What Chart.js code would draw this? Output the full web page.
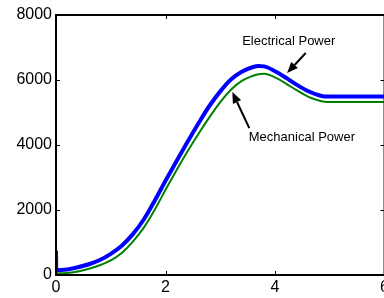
<!DOCTYPE html>
<html>
<head>
<meta charset="utf-8">
<script src="https://cdn.jsdelivr.net/npm/chart.js@4"></script>
<style>
  html, body { margin: 0; padding: 0; background: #fff; }
  #wrap { width: 384px; height: 298px; overflow: hidden; }
</style>
</head>
<body>
<div id="wrap"><canvas id="powerChart" width="392" height="298"></canvas></div>
<script>
// electrical power (blue)
const tElec = [0, 0.005, 0.2, 0.4, 0.6, 0.8, 1.0, 1.2, 1.4, 1.6, 1.8, 2.0, 2.2, 2.4, 2.6, 2.8, 3.0, 3.2, 3.4, 3.6, 3.7, 3.8, 4.0, 4.2, 4.4, 4.6, 4.8, 4.9, 5.0, 5.5, 6.0];
const pElec = [750, 150, 170, 240, 330, 460, 650, 900, 1250, 1700, 2280, 2900, 3500, 4090, 4660, 5200, 5650, 6020, 6260, 6400, 6430, 6420, 6270, 6070, 5850, 5660, 5530, 5495, 5490, 5490, 5490];

// mechanical power (green)
const tMech = [0, 0.2, 0.4, 0.6, 0.8, 1.0, 1.2, 1.4, 1.6, 1.8, 2.0, 2.2, 2.4, 2.6, 2.8, 3.0, 3.2, 3.4, 3.6, 3.7, 3.8, 4.0, 4.2, 4.4, 4.6, 4.8, 4.9, 5.0, 5.5, 6.0];
const pMech = [50, 60, 110, 190, 300, 450, 680, 1020, 1450, 2000, 2620, 3220, 3800, 4340, 4850, 5320, 5710, 5980, 6130, 6180, 6190, 6080, 5890, 5680, 5490, 5370, 5330, 5320, 5320, 5320];

const xTicks = [0, 2, 4, 6];
const yTicks = [0, 2000, 4000, 6000, 8000];

// labels with arrows, in data units
const notes = [
    { text: 'Electrical Power', at: [4.25, 7200], from: [4.56, 6830], to: [4.22, 6215] },
    { text: 'Mechanical Power', at: [4.49, 4246], from: [3.53, 4520], to: [3.22, 5630] }
];

function toPoints(xs, ys) {
    return xs.map((x, i) => ({ x: x, y: ys[i] }));
}

// box round the plot with inward ticks on all four sides
const framePlugin = {
    id: 'frame',
    afterDatasetsDraw(chart) {
        const ctx = chart.ctx;
        const a = chart.chartArea;
        const xs = chart.scales.x, ys = chart.scales.y;
        ctx.save();
        ctx.strokeStyle = '#000';
        ctx.lineWidth = 2;
        ctx.strokeRect(a.left, a.top, a.right - a.left, a.bottom - a.top);
        ctx.lineWidth = 1;
        ctx.beginPath();
        xTicks.forEach(v => {
            const px = Math.round(xs.getPixelForValue(v)) + 0.5;
            ctx.moveTo(px, a.bottom); ctx.lineTo(px, a.bottom - 4);
            ctx.moveTo(px, a.top); ctx.lineTo(px, a.top + 4);
        });
        yTicks.forEach(v => {
            const py = Math.round(ys.getPixelForValue(v)) + 0.5;
            ctx.moveTo(a.left, py); ctx.lineTo(a.left + 4, py);
            ctx.moveTo(a.right, py); ctx.lineTo(a.right - 4, py);
        });
        ctx.stroke();

        // annotations
        ctx.font = '13px "Liberation Sans", Arial, sans-serif';
        ctx.fillStyle = '#000';
        ctx.textAlign = 'center';
        ctx.textBaseline = 'middle';
        notes.forEach(n => {
            ctx.fillText(n.text, xs.getPixelForValue(n.at[0]), ys.getPixelForValue(n.at[1]));
            const x0 = xs.getPixelForValue(n.from[0]), y0 = ys.getPixelForValue(n.from[1]);
            const x1 = xs.getPixelForValue(n.to[0]), y1 = ys.getPixelForValue(n.to[1]);
            const ang = Math.atan2(y1 - y0, x1 - x0);
            const hl = 11, hw = 4.5;
            const bx = x1 - hl * Math.cos(ang), by = y1 - hl * Math.sin(ang);
            ctx.lineWidth = 2;
            ctx.beginPath();
            ctx.moveTo(x0, y0); ctx.lineTo(bx, by);
            ctx.stroke();
            ctx.beginPath();
            ctx.moveTo(x1, y1);
            ctx.lineTo(bx + hw * Math.sin(ang), by - hw * Math.cos(ang));
            ctx.lineTo(bx - hw * Math.sin(ang), by + hw * Math.cos(ang));
            ctx.closePath();
            ctx.fill();
        });
        ctx.restore();
    }
};

new Chart(document.getElementById('powerChart').getContext('2d'), {
    type: 'line',
    data: {
        datasets: [{
            label: 'Mechanical Power',
            data: toPoints(tMech, pMech),
            borderColor: '#008000',
            borderWidth: 2,
            pointRadius: 0,
            cubicInterpolationMode: 'monotone'
        }, {
            label: 'Electrical Power',
            data: toPoints(tElec, pElec),
            borderColor: '#0000ff',
            borderWidth: 4,
            pointRadius: 0,
            cubicInterpolationMode: 'monotone'
        }]
    },
    options: {
        responsive: false,
        animation: false,
        events: [],
        layout: { padding: { left: 0, top: 15, right: 6, bottom: 0 } },
        plugins: { legend: { display: false }, tooltip: { enabled: false } },
        scales: {
            x: {
                type: 'linear',
                min: 0,
                max: 6,
                afterBuildTicks: s => { s.ticks = xTicks.map(v => ({ value: v })); },
                afterFit: s => { s.height = 23; },
                grid: { display: false, drawTicks: false },
                border: { display: false },
                ticks: {
                    color: '#000',
                    padding: 3,
                    maxRotation: 0,
                    callback: v => String(v),
                    font: { family: '"Liberation Sans", Arial, sans-serif', size: 16 }
                }
            },
            y: {
                min: 0,
                max: 8000,
                afterBuildTicks: s => { s.ticks = yTicks.map(v => ({ value: v })); },
                afterFit: s => { s.width = 56; },
                grid: { display: false, drawTicks: false },
                border: { display: false },
                ticks: {
                    color: '#000',
                    padding: 4,
                    callback: v => String(v),
                    font: { family: '"Liberation Sans", Arial, sans-serif', size: 16 }
                }
            }
        }
    },
    plugins: [framePlugin]
});
</script>
</body>
</html>
